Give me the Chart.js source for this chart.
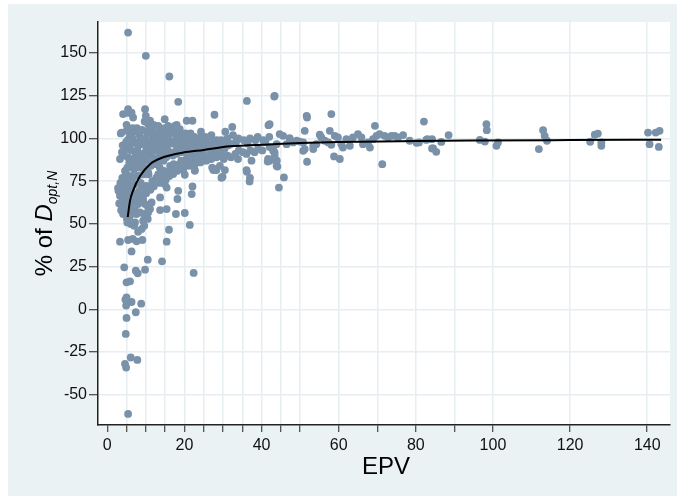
<!DOCTYPE html>
<html>
<head>
<meta charset="utf-8">
<script src="https://cdn.jsdelivr.net/npm/chart.js@4/dist/chart.umd.min.js"></script>
<style>
  html, body { margin: 0; padding: 0; background: #ffffff; }
  #wrap { width: 677px; height: 496px; }
</style>
</head>
<body>
<div id="wrap"><canvas id="c" width="677" height="496"></canvas></div>
<script>
// ---- Data: EPV (x) vs % of D_opt,N (y), as [EPV, %] pairs ----

// Sparse high values and the upper edge of the cloud
const upperPoints = [
  [5.4,162],[10.0,148.4],[16.1,136.3],[18.4,121.5],[36.2,122.0],[43.3,124.6],
  [27.8,113.9],[4.1,114.3],[5.4,117.2],[6.3,115.2],[6.7,112.3],[9.8,117.2],[10.0,113.3],
  [11.1,110.4],[14.9,111.3],[15.8,107.4],[17.5,107.4],[20.6,110.4],[22.1,110.4],[18.8,105.5],
  [10.6,108.4],[13.2,107.4],[3.7,103.5],[5.0,104.5],[5.9,104.9],[32.4,106.8],[41.8,107.8]
];

// Sparse low values (EPV below ~25)
const lowerPoints = [
  [3.3,39.6],[4.4,24.6],[5.4,40.6],[6.6,41.2],[7.6,39.8],[9.1,40.6],[6.3,33.9],
  [7.4,22.6],[7.9,21.1],[9.8,23.2],[10.5,29.1],[14.2,28.1],[15.4,39.6],[16.0,46.6],
  [21.4,49.4],[22.4,21.3],[5.0,15.8],[5.9,16.4],[5.0,7.0],[4.7,5.7],[5.2,3.9],[4.9,2.2],
  [6.3,4.3],[8.8,3.3],[7.4,-1.7],[5.0,-5.0],[4.8,-14.4],[6.1,-28.2],[7.8,-29.6],
  [4.6,-31.9],[4.9,-34.1],[5.4,-61.2],
  [8.0,45.4],[8.9,47.0],[9.6,48.9],[9.3,51.9],[7.2,50.9],[6.1,49.9],[5.2,50.9],
  [5.7,53.8],[7.0,48.9],[10.2,53.8],[9.6,55.8],[6.3,55.8],[5.0,55.8],[4.1,55.8],
  [7.6,55.8],[8.5,56.7],[10.6,56.7],[15.4,58.7],[13.7,58.1],[17.8,55.8],[20.1,56.4],
  [13.7,65.5],[18.4,69.4],[18.2,64.6],[21.9,67.5],[22.1,71.9],[20.1,78.8],[22.7,81.1],
  [29.9,77.6],[9.8,53.4],[10.5,52.9],[11.1,58.7]
];

// Lower-left flank of the dense cloud
const flankPoints = [
  [3.7,68.4],[3.3,66.5],[4.1,64.6],[3.7,61.6],[4.4,59.6],[5.0,63.6],[5.4,67.5],
  [6.3,69.4],[7.2,66.5],[8.5,67.5],[9.3,64.6],[9.8,61.6],[10.6,59.6],[11.5,62.6],
  [8.0,61.6],[6.7,62.6],[5.9,59.6],[8.9,72.3],[10.2,72.3],[11.9,73.3],[13.6,77.2],
  [14.9,73.3],[15.4,71.3],[16.2,79.2],[17.1,79.2],[14.1,80.1],[10.6,80.1],[8.0,78.2],
  [6.7,77.2],[5.4,75.3],[4.6,73.3],[5.0,79.2],[4.1,70.4],[2.9,69.4],
  [19.7,81.5],[22.7,81.5],[27.5,81.5],[28.3,81.5],[30.5,81.5],[36.1,81.5],
  [29.6,77.0],[37.0,77.0],[20.6,88],[24.9,87],[33.9,88],[37.4,87],[41.7,88],[43.9,87]
];

// Dense cloud, EPV 3 to 10
const coreLeft = [
  [3.1,62],[2.8,71],[3.3,88],[3.6,58],[3.4,74],[3.8,92],[3.5,103],
  [4.2,60],[3.9,77],[4.3,90],[4.0,96],[4.7,66],[4.6,81],[4.5,93],[4.9,98],
  [5.1,53],[5.3,69],[4.9,76],[5.2,83],[5.4,89],[5.3,99],[5.0,108],
  [5.7,58],[5.8,72],[5.7,86],[5.6,96],[5.8,101],[5.5,115],
  [6.2,62],[6.3,78],[6.1,84],[6.2,93],[6.0,97],[6.6,106],
  [6.8,67],[6.9,82],[6.7,88],[6.5,100],[6.8,104],
  [7.2,58],[7.0,73],[7.1,86],[7.4,91],[7.0,98],
  [7.7,63],[7.9,84],[7.8,93],[7.6,97],[7.7,106],
  [8.2,69],[8.3,83],[8.1,88],[8.2,96],[8.3,102],
  [8.7,74],[8.9,87],[8.5,91],[8.6,99],
  [9.1,64],[9.3,79],[9.2,90],[9.1,97],[9.0,105],
  [9.6,70],[9.5,83],[9.9,92],[9.8,100],[9.7,110]
];

// Dense cloud, EPV 10 to 17
const coreMid = [
  [10.1,68],[10.0,82],[10.2,87],[10.1,95],[10.2,104],
  [10.7,79],[10.8,90],[10.6,93],[10.9,98],
  [11.2,70],[11.3,84],[11.4,92],[11.0,96],[11.3,103],
  [11.7,75],[11.9,86],[11.5,90],[11.6,99],[11.5,105],
  [12.1,72],[12.3,85],[12.2,93],[12.1,100],[12.0,108],
  [12.7,77],[12.9,88],[12.8,96],[12.7,103],
  [13.2,79],[13.3,89],[13.1,93],[13.2,100],[13.3,107],
  [13.7,74],[13.6,83],[13.9,87],[13.8,95],[13.9,101],
  [14.1,79],[14.0,90],[14.4,97],[14.3,104],
  [14.7,81],[14.6,87],[14.9,93],[14.8,99],[14.9,106],
  [15.2,76],[15.3,89],[15.4,96],[15.0,103],
  [15.7,80],[15.9,91],[15.5,94],[15.6,101],
  [16.1,78],[16.3,84],[16.2,92],[16.1,99],[16.0,106],
  [16.7,82],[16.9,91],[16.8,98],[16.9,104]
];

// Dense cloud, EPV 17 to 25
const coreRight = [
  [17.2,85],[17.0,90],[17.1,97],[17.2,103],
  [17.7,84],[17.9,93],[17.8,99],[17.9,105],
  [18.1,81],[18.0,91],[18.2,95],[18.1,100],[18.0,108],
  [18.7,85],[18.9,92],[18.8,98],[18.6,102],
  [19.2,87],[19.3,93],[19.1,96],[19.2,102],
  [19.7,83],[19.9,92],[19.5,95],[19.6,100],
  [20.1,86],[20.0,93],[20.4,99],[20.3,103],
  [20.7,91],[20.9,97],[20.5,100],
  [21.2,84],[21.3,92],[21.1,95],[21.2,101],
  [21.7,87],[21.9,93],[21.8,99],[21.6,103],
  [22.1,89],[22.0,94],[22.4,100],
  [22.7,85],[22.9,92],[22.5,96],[22.6,101],
  [23.2,87],[23.3,93],[23.4,99],
  [23.7,89],[23.9,95],[23.8,100],
  [24.1,86],[24.0,93],[24.2,96],[24.3,104],
  [24.7,88],[24.9,94],[24.8,100]
];

// Thinner band, EPV 25 to 42
const bandPoints = [
  [25.2,90],[25.3,95],[25.4,101],[25.7,87],[25.6,99],
  [26.1,89],[26.0,97],[26.7,93],[26.8,101],
  [27.2,83],[27.0,88],[27.3,92],[27.4,97],[27.0,102],[27.9,96],
  [28.1,82],[28.3,89],[28.0,94],[28.4,99],[28.9,93],
  [29.2,84],[29.0,90],[29.3,96],[29.7,92],[29.5,99],
  [30.2,88],[30.4,94],[30.1,98],[30.6,104],
  [31.2,90],[31.4,96],[31.1,100],[32.1,89],[32.0,97],[32.6,102],
  [33.2,91],[33.4,98],[34.1,93],[34.0,100],[35.2,92],[35.4,99],
  [36.1,91],[36.4,97],[37.1,93],[37.0,100],[38.2,92],[38.4,99],
  [39.1,94],[39.0,101],[40.2,93],[40.4,99],[41.0,98],[42.1,95],[42.0,101]
];

// EPV above ~42
const rightPoints = [
  [43.4,125.0],[51.7,113.3],[51.8,112.3],[58.1,114.3],[51.2,104.5],[69.4,107.4],[82.1,109.9],
  [88.5,102.0],[76.7,102.0],[78.4,98.7],[80.8,97.7],[82.7,99.2],[84.2,99.6],[86.6,98.0],
  [84.5,94.2],[85.3,92.2],[71.3,85.0],[58.8,89.5],[60.3,88.0],[51.8,86.4],[45.8,77.2],
  [44.5,71.3],[43.9,84.0],[43.9,87.0],[43.4,89.9],[43.0,92.8],[42.1,87.0],[41.6,86.5],
  [44.1,83.6],[36.2,80.5],[36.9,74.9],[29.7,77.4],[42.1,108.4],
  [44.7,102.6],[45.6,101.6],[47.3,100.2],[49.1,98.7],[49.9,98.2],[50.8,97.7],[51.2,93.8],
  [50.8,92.8],[53.4,95.7],[53.4,93.8],[55.1,102.2],[55.5,100.6],[56.4,98.7],[57.3,97.7],
  [57.7,104.5],[59.0,101.6],[59.8,100.6],[60.7,96.7],[61.1,94.7],[62.0,99.6],[62.9,95.7],
  [63.7,100.6],[65.0,102.6],[65.9,100.6],[66.3,96.7],[67.6,97.7],[68.1,94.7],[68.9,99.6],
  [69.8,101.6],[70.6,102.6],[71.9,101.6],[72.8,100.6],[73.7,101.6],[74.5,101.6],[75.4,100.6],
  [58.1,96.3],[54.2,96.7],[48.2,97.7],[46.5,96.7],[43.9,96.7],[43.0,94.7],[43.4,91.8],
  [80.2,97.5],[83.0,99.6],[84.2,94.2],
  [98.3,108.4],[98.4,104.9],[96.6,99.2],[97.9,98.2],[101.3,97.7],[100.9,95.7],
  [113.0,104.9],[113.4,101.6],[114.0,98.7],[111.9,93.8],
  [126.4,102.2],[127.2,102.9],[125.2,98.1],[128.1,97.7],[128.1,95.7],
  [140.2,103.5],[142.2,103.5],[143.2,104.5],[140.6,96.7],[143.0,95.1]
];

// Fitted curve, read along its length
const fitEpv = [5.3, 5.9, 6.7, 8.5, 11.1, 14.5, 19.7, 25, 31.8, 42, 50, 60, 80, 94, 120, 143.6];
const fitPct = [54, 63.5, 69.5, 78, 85, 89, 91.8, 93.3, 95.4, 96.5, 97.3, 97.9, 98.5, 98.8, 99.1, 99.3];

// Axis ticks
const xTickValues = [0,5,10,15,20,25,30,35,40,45,50,60,70,80,90,100,120,140];
const xLabelValues = [0,20,40,60,80,100,120,140];
const yTickValues = [-50,-25,0,25,50,75,100,125,150];

// ---- Build datasets ----
const scatterData = [];
[upperPoints, lowerPoints, flankPoints, coreLeft, coreMid, coreRight, bandPoints, rightPoints]
  .forEach(g => g.forEach(p => scatterData.push({x: p[0], y: p[1]})));
const fitData = fitEpv.map((x, i) => ({x, y: fitPct[i]}));

const BG = '#eaf2f3';
const GRID = '#e6eef1';
const MARKER = '#7a92a9';

const backdrop = {
  id: 'backdrop',
  beforeDraw(chart) {
    const {ctx, chartArea: a} = chart;
    ctx.save();
    ctx.fillStyle = '#ffffff';
    ctx.fillRect(0, 0, chart.width, chart.height);
    ctx.fillStyle = BG;
    ctx.fillRect(8, 4, chart.width - 8, chart.height - 4);
    ctx.fillStyle = '#ffffff';
    ctx.fillRect(a.left, a.top, a.right - a.left, a.bottom - a.top);
    ctx.restore();
  },
  afterDraw(chart) {
    const {ctx, chartArea: a} = chart;
    ctx.save();
    ctx.fillStyle = '#000000';
    // x-axis title
    ctx.font = '24px "Liberation Sans", Arial, sans-serif';
    ctx.textAlign = 'center';
    ctx.textBaseline = 'alphabetic';
    ctx.fillText('EPV', (a.left + a.right) / 2 + 2, 474);
    // y-axis title with italic D and subscript
    const parts = [
      {t: '% of ', f: '24px "Liberation Sans", Arial, sans-serif', dy: 0},
      {t: 'D', f: 'italic 24px "Liberation Sans", Arial, sans-serif', dy: 0},
      {t: 'opt,N', f: 'italic 14px "Liberation Sans", Arial, sans-serif', dy: 5}
    ];
    let total = 0;
    parts.forEach(p => { ctx.font = p.f; p.w = ctx.measureText(p.t).width; total += p.w; });
    ctx.translate(51.5, (a.top + a.bottom) / 2);
    ctx.rotate(-Math.PI / 2);
    ctx.textAlign = 'left';
    let x = -total / 2;
    parts.forEach(p => { ctx.font = p.f; ctx.fillText(p.t, x, p.dy); x += p.w; });
    ctx.restore();
  }
};

new Chart(document.getElementById('c'), {
  type: 'scatter',
  data: {
    datasets: [
      {
        type: 'line',
        data: fitData,
        borderColor: '#000000',
        borderWidth: 2,
        pointRadius: 0,
        fill: false,
        cubicInterpolationMode: 'monotone',
        order: 0
      },
      {
        data: scatterData,
        backgroundColor: MARKER,
        borderColor: MARKER,
        borderWidth: 0,
        pointRadius: 3.9,
        order: 1
      }
    ]
  },
  options: {
    responsive: false,
    animation: false,
    devicePixelRatio: 1,
    layout: { padding: { left: 0, top: 22, right: 7, bottom: 0 } },
    plugins: { legend: { display: false }, tooltip: { enabled: false } },
    scales: {
      x: {
        type: 'linear',
        min: -2.4,
        max: 145.9,
        afterBuildTicks: s => { s.ticks = xTickValues.map(v => ({value: v})); },
        afterFit: s => { s.height = 71; },
        grid: {
          color: c => (c.tick && c.tick.value === 0) ? 'rgba(0,0,0,0)' : GRID,
          lineWidth: 1.5,
          tickColor: '#222222',
          tickLength: 7,
          tickWidth: 1
        },
        border: { display: true, color: '#222222', width: 1.5 },
        ticks: {
          autoSkip: false,
          maxRotation: 0,
          padding: 4,
          color: '#111111',
          font: { family: '"Liberation Sans", Arial, sans-serif', size: 16 },
          callback: v => xLabelValues.includes(v) ? String(v) : ''
        }
      },
      y: {
        type: 'linear',
        min: -67.7,
        max: 168.2,
        afterBuildTicks: s => { s.ticks = yTickValues.map(v => ({value: v})); },
        afterFit: s => { s.width = 98; },
        grid: {
          color: GRID,
          lineWidth: 1.5,
          tickColor: '#222222',
          tickLength: 9,
          tickWidth: 1
        },
        border: { display: true, color: '#222222', width: 1.5 },
        ticks: {
          autoSkip: false,
          padding: 2,
          color: '#111111',
          font: { family: '"Liberation Sans", Arial, sans-serif', size: 16 },
          callback: v => String(v)
        }
      }
    }
  },
  plugins: [backdrop]
});
</script>
</body>
</html>
